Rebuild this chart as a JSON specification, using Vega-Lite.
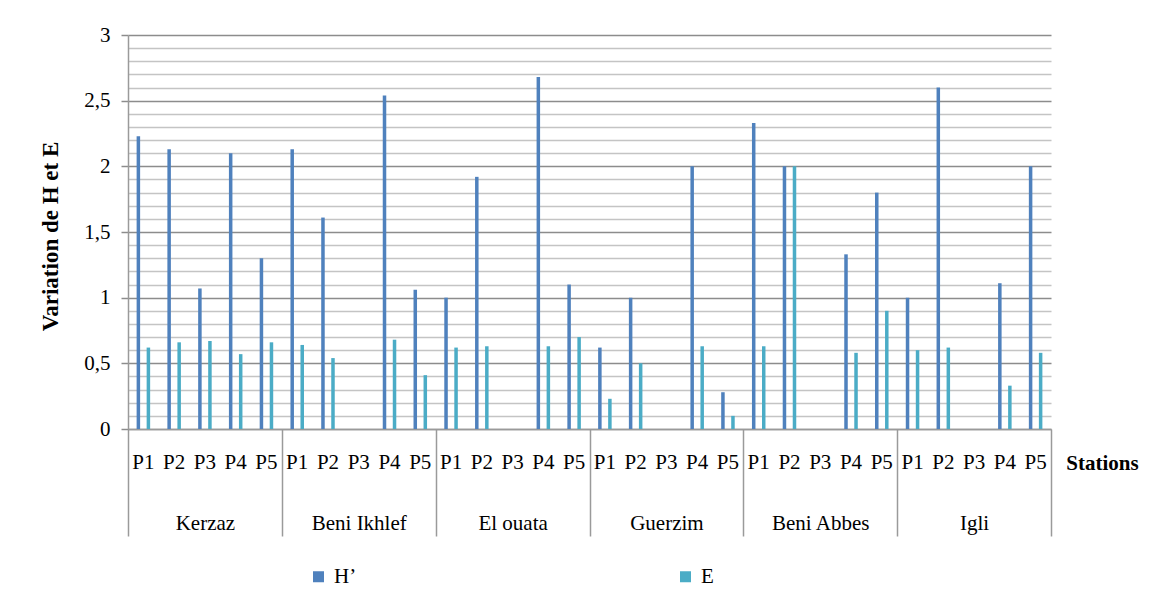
{
  "$schema": "https://vega.github.io/schema/vega-lite/v6.json",
  "width": 923,
  "height": 394,
  "autosize": {"type": "none"},
  "padding": {"left": 128, "top": 35, "right": 98, "bottom": 173},
  "background": "white",
  "config": {
    "view": {"stroke": null},
    "font": "Liberation Serif",
    "axis": {"labelFont": "Liberation Serif", "titleFont": "Liberation Serif", "labelColor": "#000", "titleColor": "#000"},
    "legend": {"labelFont": "Liberation Serif"}
  },
  "data": {
    "values": [
      {"station": "Kerzaz", "point": "P1", "pos": "Kerzaz|P1", "serie": "H’", "value": 2.23},
      {"station": "Kerzaz", "point": "P1", "pos": "Kerzaz|P1", "serie": "E", "value": 0.62},
      {"station": "Kerzaz", "point": "P2", "pos": "Kerzaz|P2", "serie": "H’", "value": 2.13},
      {"station": "Kerzaz", "point": "P2", "pos": "Kerzaz|P2", "serie": "E", "value": 0.66},
      {"station": "Kerzaz", "point": "P3", "pos": "Kerzaz|P3", "serie": "H’", "value": 1.07},
      {"station": "Kerzaz", "point": "P3", "pos": "Kerzaz|P3", "serie": "E", "value": 0.67},
      {"station": "Kerzaz", "point": "P4", "pos": "Kerzaz|P4", "serie": "H’", "value": 2.1},
      {"station": "Kerzaz", "point": "P4", "pos": "Kerzaz|P4", "serie": "E", "value": 0.57},
      {"station": "Kerzaz", "point": "P5", "pos": "Kerzaz|P5", "serie": "H’", "value": 1.3},
      {"station": "Kerzaz", "point": "P5", "pos": "Kerzaz|P5", "serie": "E", "value": 0.66},
      {"station": "Beni Ikhlef", "point": "P1", "pos": "Beni Ikhlef|P1", "serie": "H’", "value": 2.13},
      {"station": "Beni Ikhlef", "point": "P1", "pos": "Beni Ikhlef|P1", "serie": "E", "value": 0.64},
      {"station": "Beni Ikhlef", "point": "P2", "pos": "Beni Ikhlef|P2", "serie": "H’", "value": 1.61},
      {"station": "Beni Ikhlef", "point": "P2", "pos": "Beni Ikhlef|P2", "serie": "E", "value": 0.54},
      {"station": "Beni Ikhlef", "point": "P4", "pos": "Beni Ikhlef|P4", "serie": "H’", "value": 2.54},
      {"station": "Beni Ikhlef", "point": "P4", "pos": "Beni Ikhlef|P4", "serie": "E", "value": 0.68},
      {"station": "Beni Ikhlef", "point": "P5", "pos": "Beni Ikhlef|P5", "serie": "H’", "value": 1.06},
      {"station": "Beni Ikhlef", "point": "P5", "pos": "Beni Ikhlef|P5", "serie": "E", "value": 0.41},
      {"station": "El ouata", "point": "P1", "pos": "El ouata|P1", "serie": "H’", "value": 1.0},
      {"station": "El ouata", "point": "P1", "pos": "El ouata|P1", "serie": "E", "value": 0.62},
      {"station": "El ouata", "point": "P2", "pos": "El ouata|P2", "serie": "H’", "value": 1.92},
      {"station": "El ouata", "point": "P2", "pos": "El ouata|P2", "serie": "E", "value": 0.63},
      {"station": "El ouata", "point": "P4", "pos": "El ouata|P4", "serie": "H’", "value": 2.68},
      {"station": "El ouata", "point": "P4", "pos": "El ouata|P4", "serie": "E", "value": 0.63},
      {"station": "El ouata", "point": "P5", "pos": "El ouata|P5", "serie": "H’", "value": 1.1},
      {"station": "El ouata", "point": "P5", "pos": "El ouata|P5", "serie": "E", "value": 0.7},
      {"station": "Guerzim", "point": "P1", "pos": "Guerzim|P1", "serie": "H’", "value": 0.62},
      {"station": "Guerzim", "point": "P1", "pos": "Guerzim|P1", "serie": "E", "value": 0.23},
      {"station": "Guerzim", "point": "P2", "pos": "Guerzim|P2", "serie": "H’", "value": 1.0},
      {"station": "Guerzim", "point": "P2", "pos": "Guerzim|P2", "serie": "E", "value": 0.5},
      {"station": "Guerzim", "point": "P4", "pos": "Guerzim|P4", "serie": "H’", "value": 2.0},
      {"station": "Guerzim", "point": "P4", "pos": "Guerzim|P4", "serie": "E", "value": 0.63},
      {"station": "Guerzim", "point": "P5", "pos": "Guerzim|P5", "serie": "H’", "value": 0.28},
      {"station": "Guerzim", "point": "P5", "pos": "Guerzim|P5", "serie": "E", "value": 0.1},
      {"station": "Beni Abbes", "point": "P1", "pos": "Beni Abbes|P1", "serie": "H’", "value": 2.33},
      {"station": "Beni Abbes", "point": "P1", "pos": "Beni Abbes|P1", "serie": "E", "value": 0.63},
      {"station": "Beni Abbes", "point": "P2", "pos": "Beni Abbes|P2", "serie": "H’", "value": 2.0},
      {"station": "Beni Abbes", "point": "P2", "pos": "Beni Abbes|P2", "serie": "E", "value": 2.0},
      {"station": "Beni Abbes", "point": "P4", "pos": "Beni Abbes|P4", "serie": "H’", "value": 1.33},
      {"station": "Beni Abbes", "point": "P4", "pos": "Beni Abbes|P4", "serie": "E", "value": 0.58},
      {"station": "Beni Abbes", "point": "P5", "pos": "Beni Abbes|P5", "serie": "H’", "value": 1.8},
      {"station": "Beni Abbes", "point": "P5", "pos": "Beni Abbes|P5", "serie": "E", "value": 0.9},
      {"station": "Igli", "point": "P1", "pos": "Igli|P1", "serie": "H’", "value": 1.0},
      {"station": "Igli", "point": "P1", "pos": "Igli|P1", "serie": "E", "value": 0.6},
      {"station": "Igli", "point": "P2", "pos": "Igli|P2", "serie": "H’", "value": 2.6},
      {"station": "Igli", "point": "P2", "pos": "Igli|P2", "serie": "E", "value": 0.62},
      {"station": "Igli", "point": "P4", "pos": "Igli|P4", "serie": "H’", "value": 1.11},
      {"station": "Igli", "point": "P4", "pos": "Igli|P4", "serie": "E", "value": 0.33},
      {"station": "Igli", "point": "P5", "pos": "Igli|P5", "serie": "H’", "value": 2.0},
      {"station": "Igli", "point": "P5", "pos": "Igli|P5", "serie": "E", "value": 0.58}
    ]
  },
  "layer": [
    {
      "mark": {"type": "bar", "stroke": null},
      "encoding": {
        "x": {
          "field": "pos",
          "type": "nominal",
          "scale": {
            "domain": ["Kerzaz|P1","Kerzaz|P2","Kerzaz|P3","Kerzaz|P4","Kerzaz|P5",
                       "Beni Ikhlef|P1","Beni Ikhlef|P2","Beni Ikhlef|P3","Beni Ikhlef|P4","Beni Ikhlef|P5",
                       "El ouata|P1","El ouata|P2","El ouata|P3","El ouata|P4","El ouata|P5",
                       "Guerzim|P1","Guerzim|P2","Guerzim|P3","Guerzim|P4","Guerzim|P5",
                       "Beni Abbes|P1","Beni Abbes|P2","Beni Abbes|P3","Beni Abbes|P4","Beni Abbes|P5",
                       "Igli|P1","Igli|P2","Igli|P3","Igli|P4","Igli|P5"],
            "paddingInner": 0,
            "paddingOuter": 0
          },
          "axis": {
            "orient": "bottom",
            "labelExpr": "slice(datum.label, -2)",
            "labelFont": "Liberation Serif",
            "labelAngle": 0,
            "labelFontSize": 21,
            "labelBaseline": "middle",
            "labelPadding": 33,
            "labelOverlap": false,
            "ticks": false,
            "domain": true,
            "domainColor": "#9a9a9a",
            "domainWidth": 1.5,
            "grid": false,
            "title": "Stations",
            "titleFont": "Liberation Serif",
            "titleFontSize": 21,
            "titleFontWeight": "bold",
            "titleX": 974,
            "titleY": 34,
            "titleAlign": "center",
            "titleBaseline": "middle"
          }
        },
        "xOffset": {
          "field": "serie",
          "type": "nominal",
          "scale": {"domain": ["H’", "E"], "paddingInner": 0.65, "paddingOuter": 0.86}
        },
        "y": {
          "field": "value",
          "type": "quantitative",
          "scale": {"domain": [0, 3], "nice": false},
          "axis": {
            "values": [0,0.1,0.2,0.3,0.4,0.5,0.6,0.7,0.8,0.9,1,1.1,1.2,1.3,1.4,1.5,1.6,1.7,1.8,1.9,2,2.1,2.2,2.3,2.4,2.5,2.6,2.7,2.8,2.9,3],
            "labelExpr": "abs(datum.value*2 - round(datum.value*2)) < 0.001 ? replace(format(datum.value, '~g'), '.', ',') : ''",
            "labelFont": "Liberation Serif",
            "labelFontSize": 21,
            "labelOverlap": false,
            "labelPadding": 11,
            "tickSize": 7,
            "tickColor": {"condition": {"test": "abs(datum.value*2 - round(datum.value*2)) < 0.001", "value": "#8c8c8c"}, "value": "transparent"},
            "tickWidth": 1.5,
            "domainColor": "#9a9a9a",
            "domainWidth": 1.5,
            "grid": true,
            "gridColor": {"condition": {"test": "abs(datum.value*2 - round(datum.value*2)) < 0.001", "value": "#8c8c8c"}, "value": "#c4c4c4"},
            "gridWidth": 1.5,
            "title": "Variation de H et E",
            "titleFont": "Liberation Serif",
            "titleFontSize": 23,
            "titleFontWeight": "bold",
            "titleAngle": -90,
            "titleX": -78,
            "titleY": 201,
            "titleAlign": "center",
            "titleBaseline": "middle"
          }
        },
        "color": {
          "field": "serie",
          "type": "nominal",
          "scale": {"domain": ["H’", "E"], "range": ["#4F81BD", "#4BACC6"]},
          "legend": {
            "title": null,
            "orient": "none",
            "legendX": 180,
            "legendY": 531,
            "direction": "horizontal",
            "columns": 2,
            "columnPadding": 318,
            "padding": 0,
            "symbolType": "square",
            "symbolSize": 121,
            "symbolStrokeWidth": 0,
            "labelFont": "Liberation Serif",
            "labelFontSize": 21,
            "labelColor": "#000",
            "labelOffset": 5
          }
        }
      }
    },
    {
      "mark": {"type": "bar", "opacity": 0},
      "encoding": {
        "x": {
          "field": "station",
          "type": "nominal",
          "sort": null,
          "scale": {"paddingInner": 0, "paddingOuter": 0},
          "axis": {
            "orient": "bottom",
            "title": null,
            "labelFont": "Liberation Serif",
            "labelAngle": 0,
            "labelFontSize": 21,
            "labelBaseline": "middle",
            "labelPadding": -13,
            "domain": false,
            "ticks": true,
            "tickBand": "extent",
            "tickSize": 107,
            "tickColor": "#9a9a9a",
            "tickWidth": 1.5,
            "grid": false
          }
        }
      }
    }
  ],
  "resolve": {"scale": {"x": "independent"}, "axis": {"x": "independent"}}
}
